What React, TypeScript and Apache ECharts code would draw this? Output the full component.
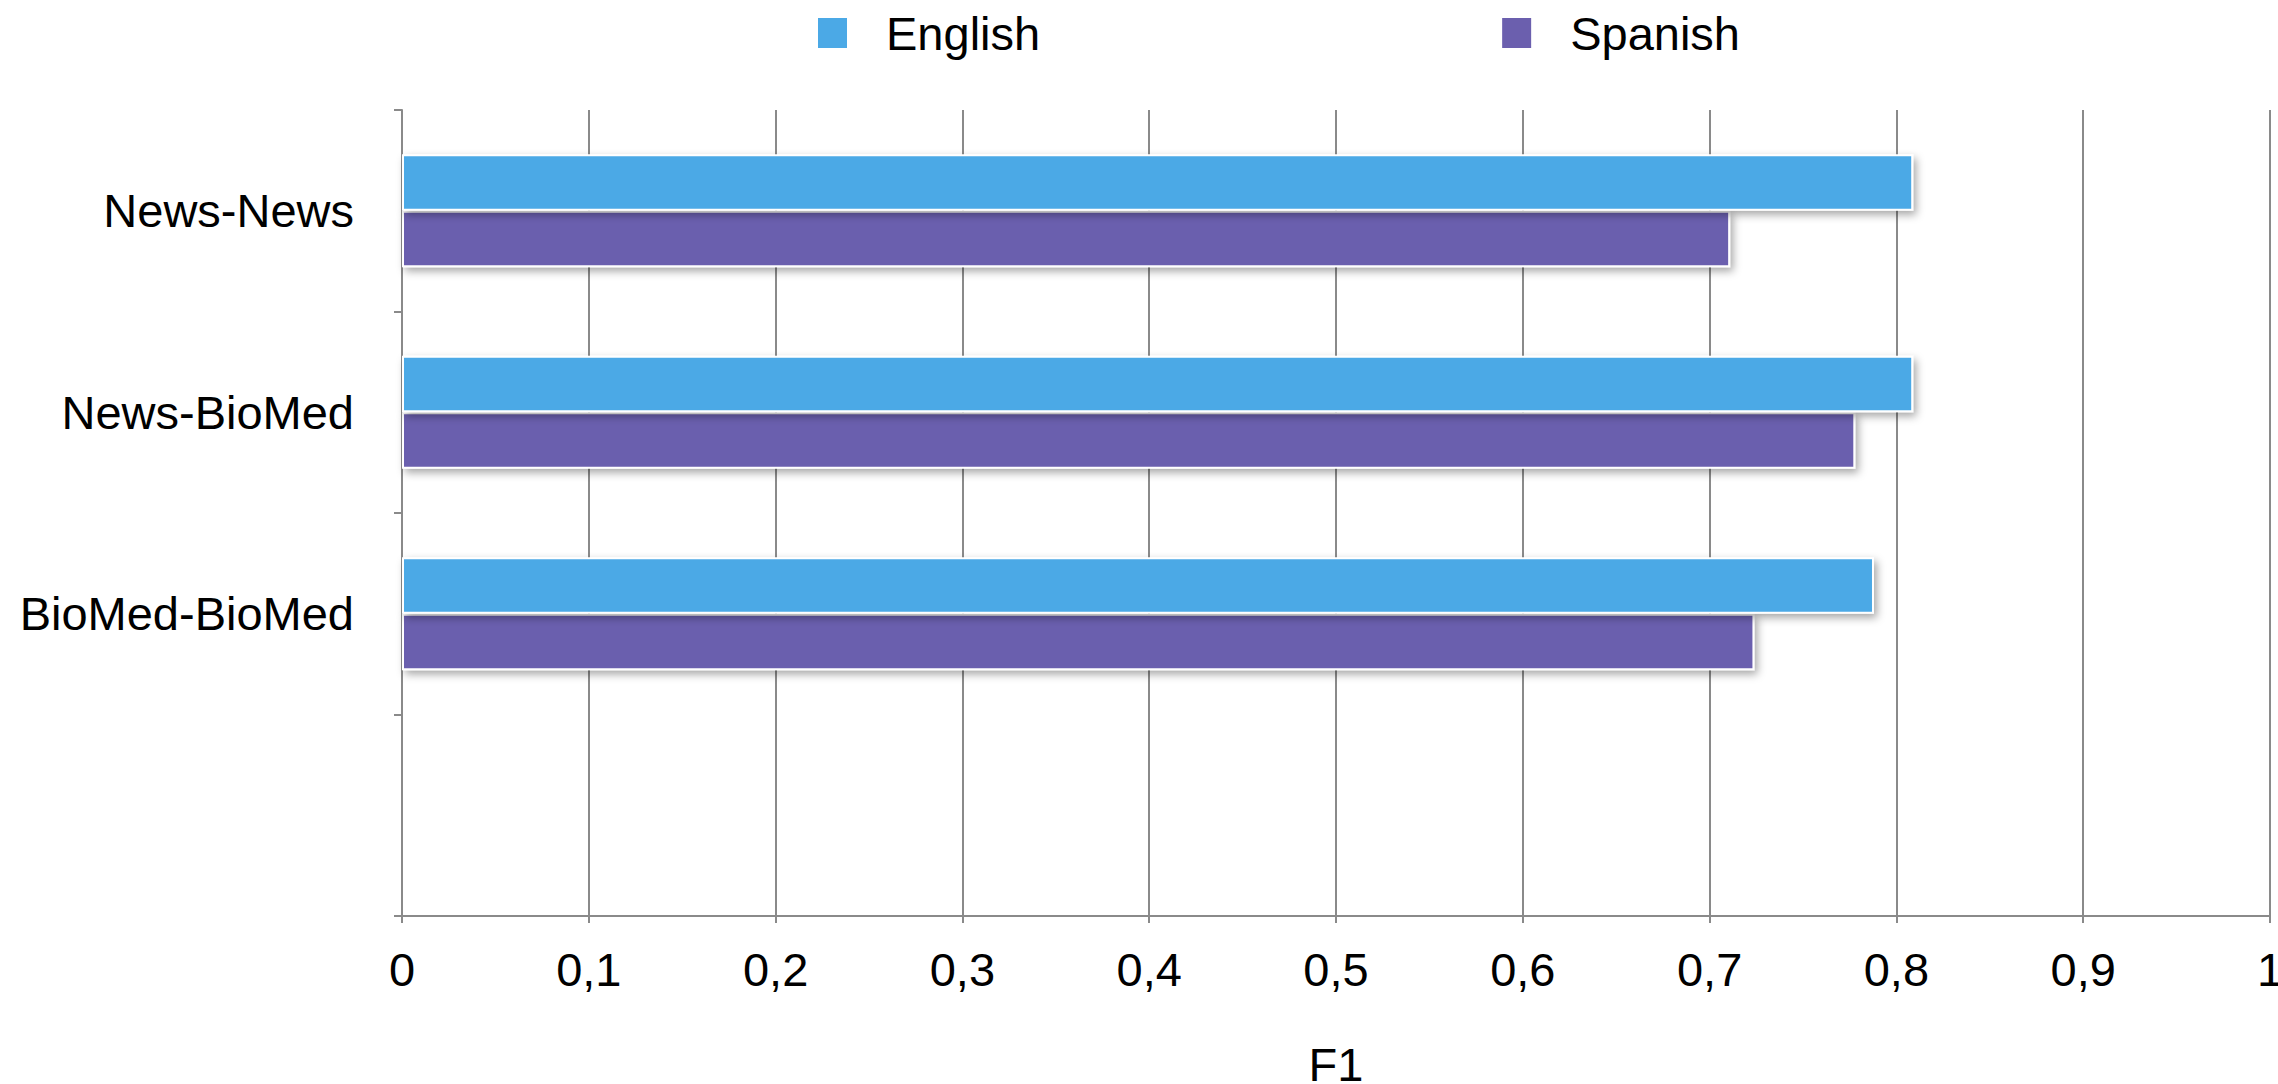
import React, { useEffect, useRef } from "react";
import * as echarts from "echarts";

const categories = ["News-News", "News-BioMed", "BioMed-BioMed", ""];
const englishF1 = [0.809, 0.809, 0.788, null];
const spanishF1 = [0.711, 0.778, 0.724, null];
const xTicks = { min: 0, max: 1, interval: 0.1 };

const FONT = "'Liberation Sans', Arial, Helvetica, sans-serif";
const AXIS_GRAY = "#8a8a8a";

export default function App() {
  const ref = useRef<HTMLDivElement>(null);

  useEffect(() => {
    if (!ref.current) return;
    const chart = echarts.init(ref.current, undefined, { renderer: "svg" });

    const barStyle = (color: string) => ({
      color,
      borderColor: "#ffffff",
      borderWidth: 2,
      shadowColor: "rgba(0,0,0,0.35)",
      shadowBlur: 8,
      shadowOffsetX: 3,
      shadowOffsetY: 4,
    });

    chart.setOption({
      animation: false,
      backgroundColor: "#ffffff",
      textStyle: { fontFamily: FONT },
      legend: {
        left: 818,
        top: 8,
        padding: 0,
        icon: "rect",
        itemWidth: 29,
        itemHeight: 30,
        itemGap: 462,
        itemStyle: { borderWidth: 0, shadowBlur: 0, shadowOffsetX: 0, shadowOffsetY: 0 },
        textStyle: {
          fontSize: 47,
          color: "#000",
          fontFamily: FONT,
          lineHeight: 50,
          padding: [0, 0, 0, 34],
        },
        data: ["English", "Spanish"],
      },
      grid: {
        left: 402,
        right: 8,
        top: 110,
        bottom: 168,
        containLabel: false,
        outerBoundsMode: "none",
      },
      xAxis: {
        type: "value",
        min: xTicks.min,
        max: xTicks.max,
        interval: xTicks.interval,
        name: "F1",
        nameLocation: "middle",
        nameGap: 125,
        nameTextStyle: { fontSize: 47, color: "#000", fontFamily: FONT },
        axisLine: { show: true, lineStyle: { color: AXIS_GRAY, width: 2 } },
        axisTick: { show: true, length: 7, lineStyle: { color: AXIS_GRAY, width: 2 } },
        axisLabel: {
          fontSize: 47,
          color: "#000",
          fontFamily: FONT,
          margin: 30,
          formatter: (v: number) => String(Math.round(v * 10) / 10).replace(".", ","),
        },
        splitLine: { show: true, lineStyle: { color: AXIS_GRAY, width: 2 } },
      },
      yAxis: {
        type: "category",
        inverse: true,
        data: categories,
        axisLine: { show: true, lineStyle: { color: AXIS_GRAY, width: 2 } },
        axisTick: { show: true, length: 8, lineStyle: { color: AXIS_GRAY, width: 2 } },
        axisLabel: { fontSize: 47, color: "#000", fontFamily: FONT, margin: 48 },
        splitLine: { show: false },
      },
      series: [
        {
          name: "English",
          type: "bar",
          data: englishF1,
          barGap: "0%",
          barCategoryGap: "44%",
          z: 3,
          itemStyle: barStyle("#4BA9E6"),
        },
        {
          name: "Spanish",
          type: "bar",
          data: spanishF1,
          barGap: "0%",
          barCategoryGap: "44%",
          z: 2,
          itemStyle: barStyle("#6B5FAE"),
        },
      ],
    });

    return () => chart.dispose();
  }, []);

  return (
    <div
      ref={ref}
      style={{ position: "fixed", left: 0, top: 0, width: 2278, height: 1084 }}
    />
  );
}
